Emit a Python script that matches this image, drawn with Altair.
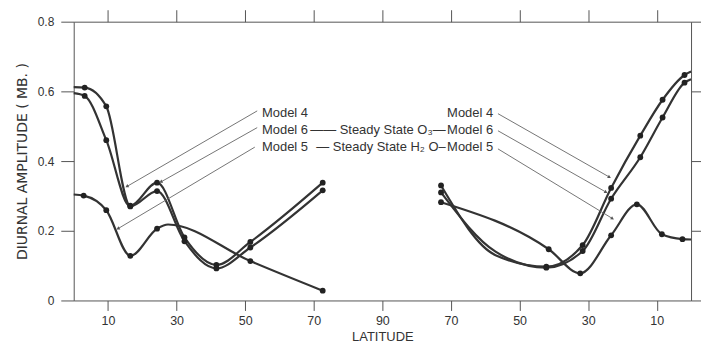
import altair as alt
import pandas as pd
import numpy as np

# ---------------- data ----------------
# Northern half (left, plotted at position = latitude)
m4_left_lat = [0, 3.2, 9.5, 16.5, 24.3, 32.3, 41.6, 51.5, 72.6]
m4_left_val = [0.612, 0.611, 0.557, 0.272, 0.338, 0.181, 0.102, 0.168, 0.338]
m4_left_dot = [0, 1, 1, 1, 1, 1, 1, 1, 1]

m6_left_lat = [0, 3.2, 9.5, 16.5, 24.3, 32.3, 41.6, 51.5, 72.6]
m6_left_val = [0.595, 0.587, 0.46, 0.27, 0.314, 0.17, 0.092, 0.152, 0.316]
m6_left_dot = [0, 1, 1, 1, 1, 1, 1, 1, 1]

m5_left_lat = [0, 2.9, 9.5, 16.5, 24.3, 27.5, 51.5, 72.6]
m5_left_val = [0.304, 0.301, 0.259, 0.128, 0.206, 0.218, 0.113, 0.028]
m5_left_dot = [0, 1, 1, 1, 1, 0, 1, 1]

# Southern half (right, plotted at position = 180 - latitude)
m4_right_lat = [0, 1.9, 8.3, 14.8, 23.3, 31.6, 42.2, 57, 72.9]
m4_right_val = [0.657, 0.647, 0.576, 0.473, 0.323, 0.159, 0.097, 0.13, 0.33]
m4_right_dot = [0, 1, 1, 1, 1, 1, 1, 0, 1]

m6_right_lat = [0, 1.9, 8.3, 14.8, 23.3, 31.6, 42.2, 57, 72.9]
m6_right_val = [0.635, 0.625, 0.525, 0.411, 0.292, 0.142, 0.094, 0.14, 0.31]
m6_right_dot = [0, 1, 1, 1, 1, 1, 1, 0, 1]

m5_right_lat = [0, 2.5, 8.5, 15.8, 23.3, 32.3, 41.5, 72.9]
m5_right_val = [0.175, 0.176, 0.19, 0.276, 0.187, 0.078, 0.147, 0.282]
m5_right_dot = [0, 1, 1, 1, 1, 1, 1, 1]

x_ticks = [10, 30, 50, 70, 90, 110, 130, 150, 170]
y_ticks = [0, 0.2, 0.4, 0.6, 0.8]

# leader lines (axis position, value) -> (axis position, value)
leader_x1 = [53.5, 53.5, 52.8, 123.7, 123.7, 123.7]
leader_y1 = [0.544, 0.496, 0.44, 0.536, 0.487, 0.435]
leader_x2 = [15.5, 25.4, 12.9, 156.2, 155.2, 157.1]
leader_y2 = [0.327, 0.34, 0.206, 0.354, 0.311, 0.235]

# labels
left_labels = ["Model 4", "Model 6", "Model 5"]
right_labels = ["Model 4", "Model 6", "Model 5"]
mid_labels = ["", "—— Steady State O₃—", "— Steady State H₂ O–"]
label_rows = [0.537, 0.489, 0.439]
left_label_x = 54.9
right_label_x = 122.3
mid_label_x = [88.7, 88.7, 89.6]

# ---------------- build tables ----------------
rows = []
def add(series, hemi, lats, vals, dots):
    for la, v, d in zip(lats, vals, dots):
        pos = la if hemi == "N" else 180 - la
        rows.append(dict(series=series, seg=series + hemi, pos=pos, value=v, dot=d))

add("Model 4", "N", m4_left_lat, m4_left_val, m4_left_dot)
add("Model 6", "N", m6_left_lat, m6_left_val, m6_left_dot)
add("Model 5", "N", m5_left_lat, m5_left_val, m5_left_dot)
add("Model 4", "S", m4_right_lat, m4_right_val, m4_right_dot)
add("Model 6", "S", m6_right_lat, m6_right_val, m6_right_dot)
add("Model 5", "S", m5_right_lat, m5_right_val, m5_right_dot)
df = pd.DataFrame(rows)

lead = pd.DataFrame(dict(x1=leader_x1, y1=leader_y1, x2=leader_x2, y2=leader_y2))
PX_X = 620 / 180.0
PX_Y = 280 / 0.8
dx = (lead.x2 - lead.x1) * PX_X
dy = -(lead.y2 - lead.y1) * PX_Y
lead["ang"] = (np.degrees(np.arctan2(dx, -dy)) + 360) % 360

lab_l = pd.DataFrame(dict(x=[left_label_x] * 3, y=label_rows, t=left_labels))
lab_r = pd.DataFrame(dict(x=[right_label_x] * 3, y=label_rows, t=right_labels))
lab_m = pd.DataFrame(dict(x=mid_label_x, y=label_rows, t=mid_labels))

# ---------------- chart ----------------
FONT = "Liberation Sans"
INK = "#333333"
AX = "#555555"

xs = alt.Scale(domain=[0, 180], nice=False, zero=False)
ys = alt.Scale(domain=[0, 0.8], nice=False)

x_bottom = alt.Axis(values=x_ticks, labelExpr="datum.value <= 90 ? datum.value : 180 - datum.value",
                    title="LATITUDE", tickSize=10, grid=False, domainColor=AX, tickColor=AX,
                    labelFont=FONT, labelFontSize=12.5, labelColor="#333", labelPadding=4,
                    titleFont=FONT, titleFontSize=13, titleFontWeight="normal", titleColor="#333",
                    titlePadding=4)
y_left = alt.Axis(values=y_ticks, labelExpr="datum.value == 0 ? '0' : format(datum.value, '.1f')",
                  title="DIURNAL AMPLITUDE ( MB. )", tickSize=13, grid=False, domainColor=AX, tickColor=AX,
                  labelFont=FONT, labelFontSize=12, labelColor="#333", labelPadding=7,
                  titleFont="DejaVu Sans", titleFontSize=14, titleFontWeight="normal", titleColor="#333",
                  titlePadding=8)
x_top = alt.Axis(orient="top", values=x_ticks, labels=False, title=None, tickSize=12, grid=False,
                 domainColor=AX, tickColor=AX)
y_right = alt.Axis(orient="right", values=y_ticks, labels=False, title=None, tickSize=10, grid=False,
                   domainColor=AX, tickColor=AX)

lines = alt.Chart(df).mark_line(interpolate="monotone", color=INK, strokeWidth=2.2).encode(
    x=alt.X("pos:Q", scale=xs, axis=x_bottom),
    y=alt.Y("value:Q", scale=ys, axis=y_left),
    detail="seg:N",
    order="pos:Q",
)

dots = alt.Chart(df).transform_filter("datum.dot == 1").mark_circle(size=34, color="#222", opacity=1).encode(
    x=alt.X("pos:Q", scale=xs, axis=None),
    y=alt.Y("value:Q", scale=ys, axis=None),
)

leaders = alt.Chart(lead).mark_rule(color="#666", strokeWidth=0.9).encode(
    x=alt.X("x1:Q", scale=xs, axis=x_top),
    y=alt.Y("y1:Q", scale=ys, axis=y_right),
    x2="x2:Q",
    y2="y2:Q",
)

heads = alt.Chart(lead).mark_point(shape="triangle-up", filled=True, size=14, color="#555", opacity=1).encode(
    x=alt.X("x2:Q", scale=xs, axis=None),
    y=alt.Y("y2:Q", scale=ys, axis=None),
    angle=alt.Angle("ang:Q", scale=None),
)

def texts(d, align):
    return alt.Chart(d).mark_text(align=align, baseline="middle", font=FONT, fontSize=13, color="#333").encode(
        x=alt.X("x:Q", scale=xs, axis=None),
        y=alt.Y("y:Q", scale=ys, axis=None),
        text="t:N",
    )

chart = alt.layer(lines, dots, leaders, heads, texts(lab_l, "left"), texts(lab_r, "right"),
                  texts(lab_m, "center")).resolve_axis(x="independent", y="independent").properties(
    width=620, height=280,
    autosize=alt.AutoSizeParams(type="none"),
    padding={"left": 66, "top": 13, "right": 10, "bottom": 47},
    background="white",
).configure_view(stroke=None)

chart.save("out.html", embed_options={"renderer": "svg", "actions": False})
